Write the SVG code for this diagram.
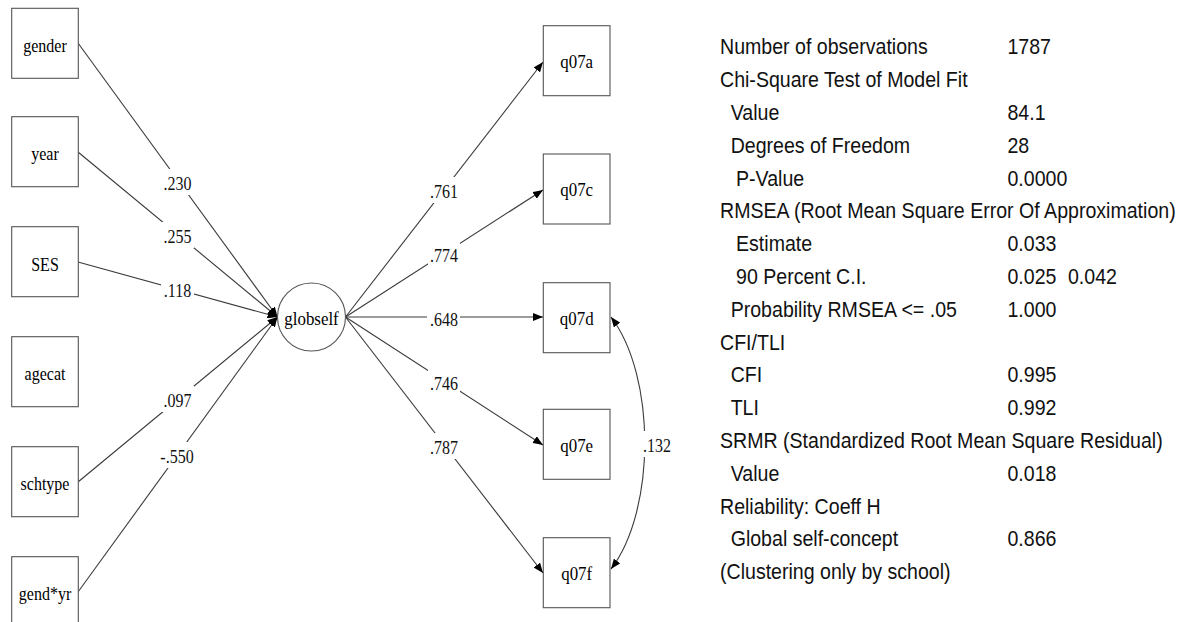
<svg xmlns="http://www.w3.org/2000/svg" width="1185" height="622" viewBox="0 0 1185 622">
<style>
.box{fill:#fff;stroke:#555;stroke-width:1.1}
.lat{fill:#fff;stroke:#555;stroke-width:1.1}
.nt{font-family:"Liberation Serif","Times New Roman",serif;font-size:18px;fill:#000;text-anchor:middle}
.qt{font-family:"Liberation Serif","Times New Roman",serif;font-size:19px;fill:#000;text-anchor:middle}
.gt{font-family:"Liberation Serif","Times New Roman",serif;font-size:19px;fill:#000;text-anchor:middle}
.edge{fill:none;stroke:#3a3a3a;stroke-width:1.1;marker-end:url(#ah)}
.lbg{fill:#fff;stroke:none}
.lt{font-family:"Liberation Serif","Times New Roman",serif;font-size:18px;fill:#111;text-anchor:middle}
.st{font-family:"Liberation Sans",Arial,sans-serif;font-size:22px;fill:#111}
</style>
<defs>
<marker id="ah" viewBox="0 0 10 8" refX="10" refY="4" markerWidth="10" markerHeight="8" markerUnits="userSpaceOnUse" orient="auto-start-reverse">
<path d="M0,0 L10,4 L0,8 z" fill="#000"/>
</marker>
</defs>
<rect width="1185" height="622" fill="#fff"/>

<g id="connectors">
<path class="edge" d="M78,43 L277.5,317"/>
<path class="edge" d="M78,152 L277.5,317"/>
<path class="edge" d="M78,262 L277.5,317"/>
<path class="edge" d="M78,482 L277.5,317"/>
<path class="edge" d="M78,592 L277.5,317"/>
<path class="edge" d="M345.5,317 L543,62"/>
<path class="edge" d="M345.5,317 L543,190"/>
<path class="edge" d="M345.5,317 L543,317"/>
<path class="edge" d="M345.5,317 L543,445"/>
<path class="edge" d="M345.5,317 L543,573"/>
<path class="edge" style="marker-start:url(#ah)" d="M611,317 C656,376 656,510 611,569"/>
</g>

<g id="edge-labels">
<rect class="lbg" x="162" y="169" width="32" height="26"/><text class="lt" transform="translate(177.5 190) scale(0.89 1)">.230</text>
<rect class="lbg" x="162" y="222" width="32" height="26"/><text class="lt" transform="translate(177.5 243) scale(0.89 1)">.255</text>
<rect class="lbg" x="161" y="276" width="33" height="26"/><text class="lt" transform="translate(177.5 297) scale(0.89 1)">.118</text>
<rect class="lbg" x="162" y="386" width="32" height="26"/><text class="lt" transform="translate(177.5 407) scale(0.89 1)">.097</text>
<rect class="lbg" x="158" y="442" width="37" height="26"/><text class="lt" transform="translate(177 463) scale(0.89 1)">-.550</text>
<rect class="lbg" x="428" y="177" width="32" height="26"/><text class="lt" transform="translate(444 198) scale(0.89 1)">.761</text>
<rect class="lbg" x="428" y="241" width="32" height="26"/><text class="lt" transform="translate(444 262) scale(0.89 1)">.774</text>
<rect class="lbg" x="427" y="305" width="33" height="26"/><text class="lt" transform="translate(444 326) scale(0.89 1)">.648</text>
<rect class="lbg" x="428" y="369" width="32" height="26"/><text class="lt" transform="translate(444 390) scale(0.89 1)">.746</text>
<rect class="lbg" x="428" y="433" width="32" height="26"/><text class="lt" transform="translate(444 454) scale(0.89 1)">.787</text>
<rect class="lbg" x="641" y="431" width="32" height="26"/><text class="lt" transform="translate(657 452) scale(0.89 1)">.132</text>
</g>

<g id="gender"><rect class="box" x="11.7" y="8.3" width="66.6" height="70"/><text class="nt" transform="translate(45 52) scale(0.89 1)">gender</text></g>
<g id="year"><rect class="box" x="11.7" y="116.7" width="66.6" height="70"/><text class="nt" transform="translate(45 160) scale(0.89 1)">year</text></g>
<g id="SES"><rect class="box" x="11.7" y="226.7" width="66.6" height="70"/><text class="nt" transform="translate(45 271) scale(0.89 1)">SES</text></g>
<g id="agecat"><rect class="box" x="11.7" y="336.7" width="66.6" height="70"/><text class="nt" transform="translate(45 380) scale(0.89 1)">agecat</text></g>
<g id="schtype"><rect class="box" x="11.7" y="446.7" width="66.6" height="70"/><text class="nt" transform="translate(45 490) scale(0.89 1)">schtype</text></g>
<g id="gendyr"><rect class="box" x="11.7" y="556.7" width="66.6" height="70"/><text class="nt" transform="translate(45 600) scale(0.89 1)">gend*yr</text></g>

<g id="globself"><circle class="lat" cx="311.5" cy="317" r="34"/><text class="gt" transform="translate(311.5 325) scale(0.89 1)">globself</text></g>

<g id="q07a"><rect class="box" x="543.3" y="25.7" width="66.7" height="70"/><text class="qt" transform="translate(576.7 68) scale(0.89 1)">q07a</text></g>
<g id="q07c"><rect class="box" x="543.3" y="154" width="66.7" height="70"/><text class="qt" transform="translate(576.7 196) scale(0.89 1)">q07c</text></g>
<g id="q07d"><rect class="box" x="543.3" y="282.7" width="66.7" height="70"/><text class="qt" transform="translate(576.7 325) scale(0.89 1)">q07d</text></g>
<g id="q07e"><rect class="box" x="543.3" y="409.3" width="66.7" height="70"/><text class="qt" transform="translate(576.7 452) scale(0.89 1)">q07e</text></g>
<g id="q07f"><rect class="box" x="543.3" y="537.7" width="66.7" height="70"/><text class="qt" transform="translate(576.7 580) scale(0.89 1)">q07f</text></g>

<g id="fit-stats" transform="translate(720 0) scale(0.89 1)">
<text class="st" x="0" y="54.5">Number of observations</text><text class="st" x="323" y="54.5">1787</text>
<text class="st" x="0" y="87.3">Chi-Square Test of Model Fit</text>
<text class="st" x="12" y="120.1">Value</text><text class="st" x="323" y="120.1">84.1</text>
<text class="st" x="12" y="152.9">Degrees of Freedom</text><text class="st" x="323" y="152.9">28</text>
<text class="st" x="18" y="185.7">P-Value</text><text class="st" x="323" y="185.7">0.0000</text>
<text class="st" x="0" y="218.5">RMSEA (Root Mean Square Error Of Approximation)</text>
<text class="st" x="18" y="251.3">Estimate</text><text class="st" x="323" y="251.3">0.033</text>
<text class="st" x="18" y="284.1">90 Percent C.I.</text><text class="st" x="323" y="284.1">0.025</text><text class="st" x="391" y="284.1">0.042</text>
<text class="st" x="12" y="316.9">Probability RMSEA &lt;= .05</text><text class="st" x="323" y="316.9">1.000</text>
<text class="st" x="0" y="349.7">CFI/TLI</text>
<text class="st" x="12" y="382.5">CFI</text><text class="st" x="323" y="382.5">0.995</text>
<text class="st" x="12" y="415.3">TLI</text><text class="st" x="323" y="415.3">0.992</text>
<text class="st" x="0" y="448.1">SRMR (Standardized Root Mean Square Residual)</text>
<text class="st" x="12" y="480.9">Value</text><text class="st" x="323" y="480.9">0.018</text>
<text class="st" x="0" y="513.7">Reliability: Coeff H</text>
<text class="st" x="12" y="546.5">Global self-concept</text><text class="st" x="323" y="546.5">0.866</text>
<text class="st" x="0" y="579.3">(Clustering only by school)</text>
</g>
</svg>
